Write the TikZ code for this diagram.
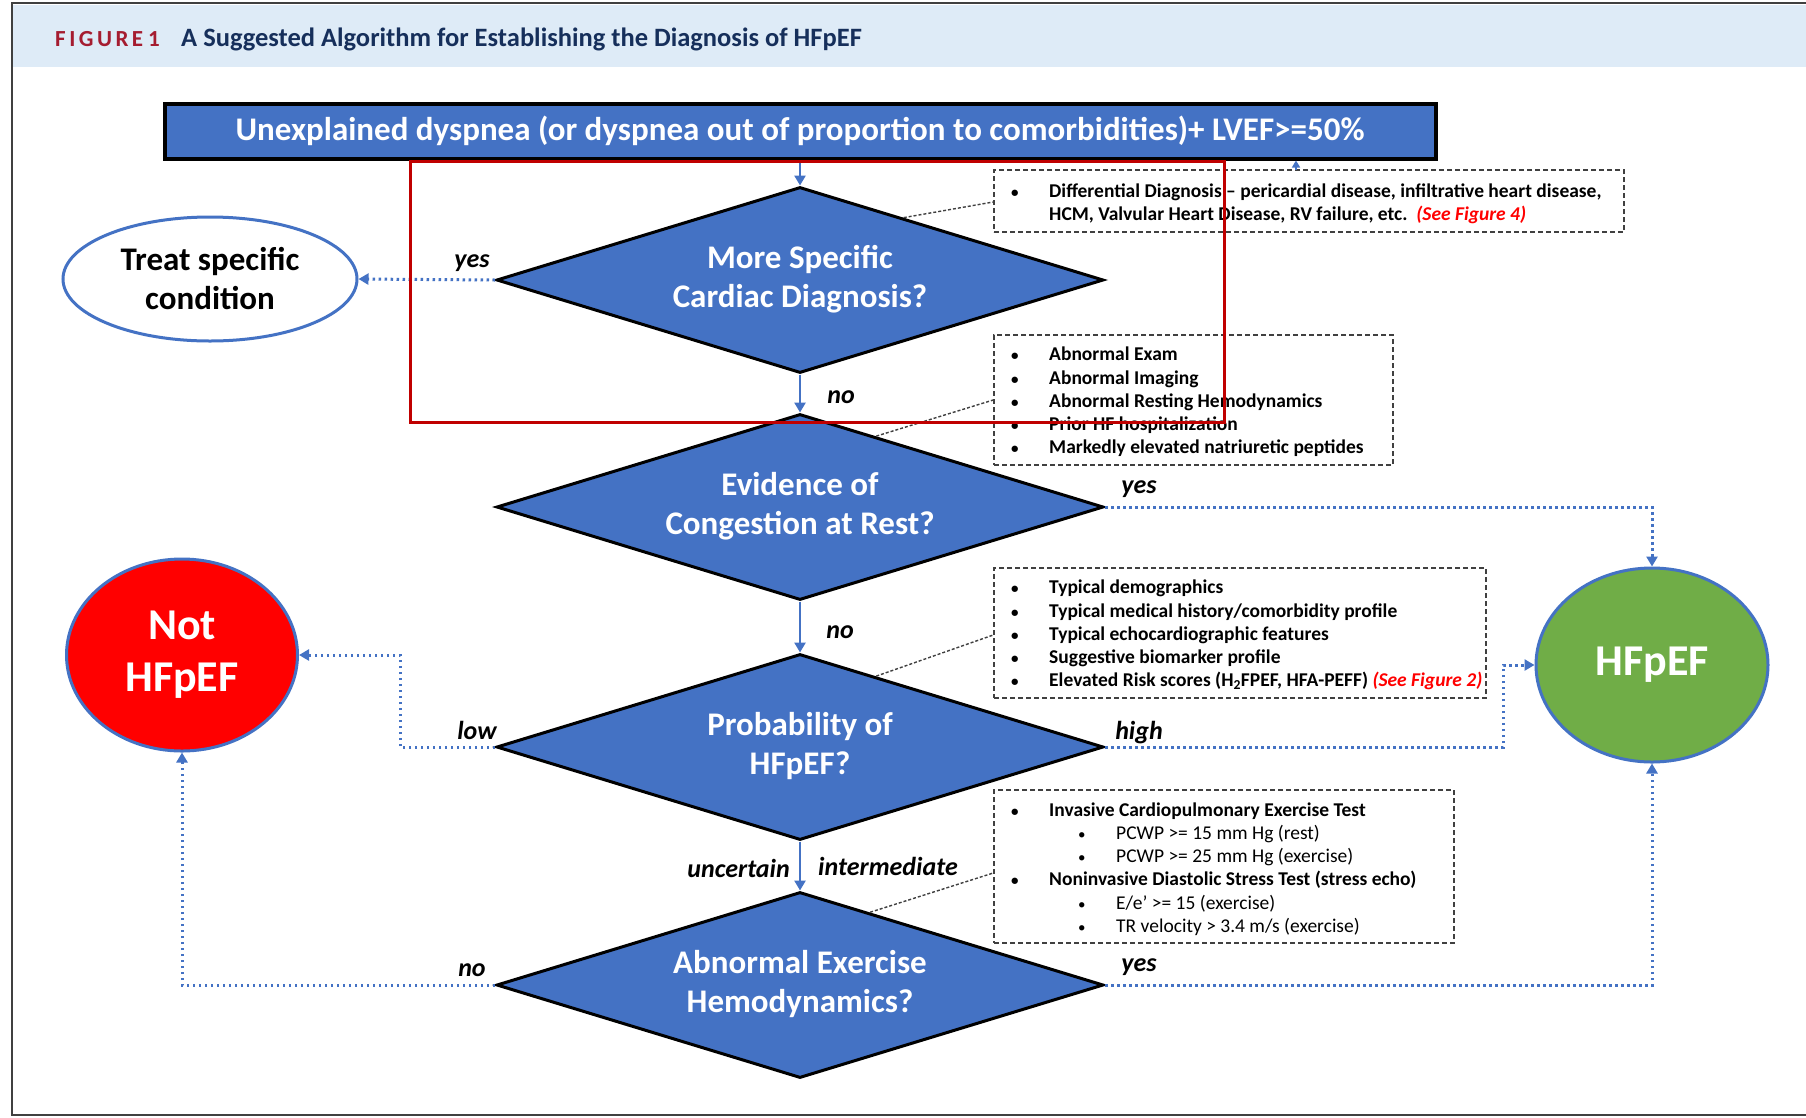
\documentclass[tikz,border=0pt]{standalone}
\usepackage{fontspec}
\setmainfont{Carlito}
\usetikzlibrary{shapes.geometric,arrows.meta,calc}
\definecolor{blueA}{HTML}{4472C4}
\definecolor{hdrbg}{HTML}{DEEBF7}
\definecolor{navyT}{HTML}{162F5B}
\definecolor{figred}{HTML}{A51C30}
\definecolor{greenH}{HTML}{70AD47}
\definecolor{redbox}{HTML}{C00000}
\definecolor{noteg}{HTML}{404040}
\newcommand{\bul}{\makebox[38pt][l]{\fontsize{15}{15}\selectfont •}}
\newcommand{\subbul}{\hspace*{67pt}\makebox[38pt][l]{\fontsize{15}{15}\selectfont •}}
\newcommand{\seefig}[1]{\textcolor{red}{\textit{(See Figure #1)}}}
\newcommand{\dtext}[1]{\raisebox{-3pt}{\begin{tabular}{@{}c@{}}#1\end{tabular}}}
\tikzset{
  dia/.style={diamond, draw=black, line width=3pt, fill=blueA, text=white,
    minimum width=607pt, minimum height=186pt, aspect=3.26, inner sep=0pt,
    align=center, font=\fontsize{33}{39}\selectfont\bfseries},
  flowarrow/.style={draw=blueA, line width=2.5pt, -{Triangle[length=10pt,width=11pt]}},
  dotarrow/.style={draw=blueA, line width=3pt, dash pattern=on 2.5pt off 3.5pt,
    -{Triangle[length=10pt,width=11pt]}},
  notebox/.style={draw=noteg, line width=1.6pt, dash pattern=on 5pt off 3pt, inner sep=0pt},
  notetext/.style={anchor=west, align=left, inner sep=0pt,
    font=\fontsize{19.5}{23.2}\selectfont\bfseries},
  noteline/.style={draw=noteg, line width=1.4pt, dash pattern=on 3pt off 2pt},
  lbl/.style={font=\fontsize{26}{30}\selectfont\bfseries\itshape, inner sep=0pt},
}
\begin{document}
\begin{tikzpicture}[x=1pt,y=-1pt]
\useasboundingbox (0,0) rectangle (1806,1117);
\fill[white] (0,0) rectangle (1806,1117);
% header
\fill[hdrbg] (12,5) rectangle (1806,67);
\draw[black!75, line width=2pt] (1806,3) -- (12,3) -- (12,1115) -- (1806,1115);
\node[anchor=west, inner sep=0pt, text=figred, font=\fontsize{23}{24}\selectfont\bfseries] (fig) at (55,39) {F\kern3.5pt I\kern3.5pt G\kern3.5pt U\kern3.5pt R\kern3.5pt E\kern5pt 1};
\node[anchor=west, inner sep=0pt, text=navyT, font=\fontsize{26.5}{28}\selectfont\bfseries] (title) at (181,39) {A Suggested Algorithm for Establishing the Diagnosis of HFpEF};

% top box
\node[draw=black, line width=4pt, fill=blueA, text=white, minimum width=1271pt, minimum height=55pt,
  inner sep=0pt, font=\fontsize{33}{36}\selectfont\bfseries] (top) at (800,131)
  {Unexplained dyspnea (or dyspnea out of proportion to comorbidities)+ LVEF>=50\%};

% diamonds
\node[dia] (d1) at (800,280) {\dtext{More Specific\\Cardiac Diagnosis?}};
\node[dia] (d2) at (800,507) {\dtext{Evidence of\\Congestion at Rest?}};
\node[dia] (d3) at (800,747) {\dtext{Probability of\\HFpEF?}};
\node[dia] (d4) at (800,985) {\dtext{Abnormal Exercise\\Hemodynamics?}};

% outcome shapes
\node[ellipse, draw=blueA, line width=3pt, fill=white, minimum width=294pt, minimum height=124pt,
  inner sep=0pt, align=center, font=\fontsize{33}{39}\selectfont\bfseries] (treat) at (210,279)
  {Treat specific\\condition};
\node[ellipse, draw=blueA, line width=3pt, fill=red, text=white, minimum width=231pt, minimum height=192pt,
  inner sep=0pt, align=center, font=\fontsize{44}{52}\selectfont\bfseries] (nothf) at (182,655)
  {Not\\HFpEF};
\node[ellipse, draw=blueA, line width=3pt, fill=greenH, text=white, minimum width=232pt, minimum height=194pt,
  inner sep=0pt, align=center, font=\fontsize{44}{52}\selectfont\bfseries] (hf) at (1652,665)
  {HFpEF};

% note boxes
\node[notebox, minimum width=630pt, minimum height=62pt] (b1) at (1309,201) {};
\node[notetext] (t1) at (1011,204) {\bul Differential Diagnosis -- pericardial disease, infiltrative heart disease,\\
  \hspace*{38pt}HCM, Valvular Heart Disease, RV failure, etc.\ \ \seefig{4}};
\node[notebox, minimum width=399pt, minimum height=130pt] (b2) at (1193.5,400) {};
\node[notetext] (t2) at (1011,402) {\bul Abnormal Exam\\ \bul Abnormal Imaging\\ \bul Abnormal Resting Hemodynamics\\
  \bul Prior HF hospitalization\\ \bul Markedly elevated natriuretic peptides};
\node[notebox, minimum width=492pt, minimum height=130pt] (b3) at (1240,633) {};
\node[notetext] (t3) at (1011,635) {\bul Typical demographics\\ \bul Typical medical history/comorbidity profile\\
  \bul Typical echocardiographic features\\ \bul Suggestive biomarker profile\\
  \bul Elevated Risk scores (H\textsubscript{2}FPEF, HFA-PEFF) \seefig{2}};
\node[notebox, minimum width=460pt, minimum height=153pt] (b4) at (1224,866.5) {};
\node[notetext] (t4) at (1011,869) {\bul Invasive Cardiopulmonary Exercise Test\\
  {\mdseries\subbul PCWP >= 15 mm Hg (rest)}\\
  {\mdseries\subbul PCWP >= 25 mm Hg (exercise)}\\
  \bul Noninvasive Diastolic Stress Test (stress echo)\\
  {\mdseries\subbul E/e’ >= 15 (exercise)}\\
  {\mdseries\subbul TR velocity > 3.4 m/s (exercise)}};

% dashed callout lines
\draw[noteline] ($(d1.north)!0.34!(d1.east)$) -- (b1.west |- 0,202);
\draw[noteline] ($(d2.north)!0.25!(d2.east)$) -- (b2.west |- 0,400);
\draw[noteline] ($(d3.north)!0.25!(d3.east)$) -- (b3.west |- 0,635);
\draw[noteline] ($(d4.north)!0.23!(d4.east)$) -- (b4.west |- 0,873);

% small arrow from note box 1 to top box
\coordinate (b1top) at (1296,170);
\draw[draw=blueA, line width=1.5pt, -{Triangle[length=7pt,width=8pt]}] (b1top) -- (b1top |- top.south);

% main flow
\draw[flowarrow] (top.south) -- (d1.north);
\draw[flowarrow] (d1.south) -- (d2.north);
\draw[flowarrow] (d2.south) -- (d3.north);
\draw[flowarrow] (d3.south) -- (d4.north);

% decision branches
\draw[dotarrow] (d1.west) -- (treat.east);
\draw[dotarrow] (d2.east) -| (hf.north);
\draw[dotarrow] (d3.west) -- (400,747) |- (nothf.east);
\draw[dotarrow] (d3.east) -- (1503,747) |- (hf.west);
\draw[dotarrow] (d4.west) -| (nothf.south);
\draw[dotarrow] (d4.east) -| (hf.south);

% labels
\node[lbl] (l1) at (472,263) {yes};
\node[lbl] (l2) at (841,397) {no};
\node[lbl] (l3) at (1139,489) {yes};
\node[lbl] (l4) at (840,632) {no};
\node[lbl] (l5) at (477,730) {low};
\node[lbl] (l6) at (1139,733) {high};
\node[lbl, anchor=east] (l7) at (790,868) {uncertain};
\node[lbl, anchor=west] (l8) at (818,866) {intermediate};
\node[lbl] (l9) at (472,970) {no};
\node[lbl] (l10) at (1139,967) {yes};

% red highlight rectangle
\draw[redbox, line width=3pt] (410,161) rectangle (1224,422);
\end{tikzpicture}
\end{document}
